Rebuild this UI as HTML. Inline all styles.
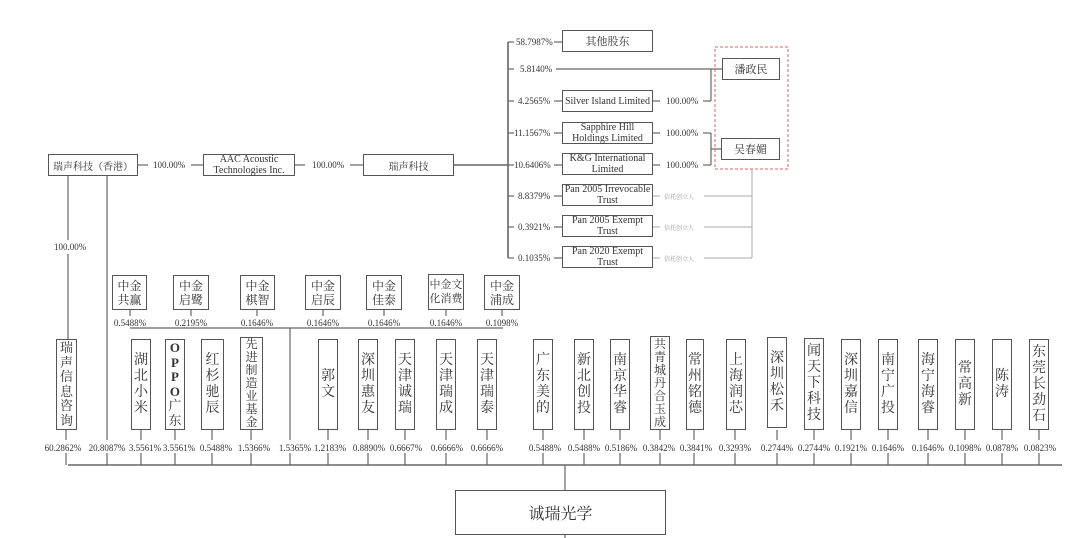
<!DOCTYPE html>
<html><head><meta charset="utf-8"><style>
body{margin:0;width:1080px;height:538px;background:#fff;position:relative;overflow:hidden;font-family:"Liberation Serif","Noto Serif CJK SC",serif;color:#333}
.b{position:absolute;border:1.3px solid #555;box-sizing:border-box;display:flex;align-items:center;justify-content:center;text-align:center;background:#fff}
.v{font-size:14px;line-height:16px}
.v7{font-size:12px;line-height:13px}
.h{font-size:10px;line-height:11px}
.p{position:absolute;font-size:9px;white-space:nowrap;transform:translateX(-50%)}
.r{position:absolute;font-size:9px;white-space:nowrap}
svg{position:absolute;left:0;top:0}
</style></head><body>
<svg width="1080" height="538" stroke="#666" stroke-width="1.2" fill="none">
<line x1="138" y1="165" x2="148" y2="165"/><line x1="191" y1="165" x2="203" y2="165"/>
<line x1="295" y1="165" x2="305" y2="165"/><line x1="350" y1="165" x2="363" y2="165"/>
<line x1="454" y1="165" x2="508" y2="165" stroke-width="1.6"/>
<line x1="508" y1="42" x2="508" y2="258" stroke-width="1.6"/>
<g>
<line x1="508" y1="42" x2="514" y2="42"/><line x1="508" y1="69" x2="514" y2="69"/><line x1="508" y1="101" x2="514" y2="101"/><line x1="508" y1="133" x2="514" y2="133"/><line x1="508" y1="165" x2="514" y2="165"/><line x1="508" y1="196" x2="514" y2="196"/><line x1="508" y1="227" x2="514" y2="227"/><line x1="508" y1="258" x2="514" y2="258"/>
<line x1="554" y1="42" x2="562" y2="42"/><line x1="554" y1="101" x2="562" y2="101"/><line x1="554" y1="133" x2="562" y2="133"/><line x1="554" y1="165" x2="562" y2="165"/><line x1="554" y1="196" x2="562" y2="196"/><line x1="554" y1="227" x2="562" y2="227"/><line x1="554" y1="258" x2="562" y2="258"/>
<line x1="556" y1="69" x2="722" y2="69"/>
<line x1="652" y1="101" x2="660" y2="101"/><line x1="652" y1="133" x2="660" y2="133"/><line x1="652" y1="165" x2="660" y2="165"/>
<line x1="703" y1="101" x2="711" y2="101"/><line x1="711" y1="69" x2="711" y2="101"/>
<line x1="703" y1="133" x2="711" y2="133"/><line x1="703" y1="165" x2="711" y2="165"/><line x1="711" y1="133" x2="711" y2="165"/><line x1="711" y1="149" x2="721" y2="149"/>
</g>
<g stroke="#aaa" stroke-width="1">
<line x1="652" y1="196" x2="660" y2="196"/><line x1="652" y1="227" x2="660" y2="227"/><line x1="652" y1="258" x2="660" y2="258"/>
<line x1="704" y1="196" x2="752" y2="196"/><line x1="704" y1="227" x2="752" y2="227"/><line x1="704" y1="258" x2="752" y2="258"/>
<line x1="752" y1="169" x2="752" y2="258"/>
</g>
<rect x="715" y="47" width="73" height="122" stroke="#d66" stroke-dasharray="3,2" stroke-width="1"/>
<line x1="68" y1="176" x2="68" y2="240"/><line x1="68" y1="254" x2="68" y2="339"/>
<line x1="107" y1="176" x2="107" y2="440"/>
<line x1="130" y1="328" x2="503" y2="328"/>
<line x1="290" y1="328" x2="290" y2="440"/>
<line x1="130" y1="310" x2="130" y2="316"/><line x1="191" y1="310" x2="191" y2="316"/><line x1="257" y1="310" x2="257" y2="316"/><line x1="323" y1="310" x2="323" y2="316"/><line x1="384" y1="310" x2="384" y2="316"/><line x1="446" y1="310" x2="446" y2="316"/><line x1="502" y1="310" x2="502" y2="316"/>
<line x1="68" y1="465" x2="1062" y2="465" stroke-width="1.5"/>
<path d="M66 430V440M66 453V465M107 453V465M141 430V440M141 453V465M175 430V440M175 453V465M212 430V440M212 453V465M251 430V440M251 453V465M290 453V465M328 430V440M328 453V465M368 430V440M368 453V465M405 430V440M405 453V465M446 430V440M446 453V465M487 430V440M487 453V465M543 430V440M543 453V465M584 430V440M584 453V465M620 430V440M620 453V465M660 430V440M660 453V465M694 430V440M694 453V465M735 430V440M735 453V465M777 430V440M777 453V465M814 430V440M814 453V465M851 430V440M851 453V465M888 430V440M888 453V465M928 430V440M928 453V465M965 430V440M965 453V465M1002 430V440M1002 453V465M1039 430V440M1039 453V465"/>
<line x1="565" y1="465" x2="565" y2="490"/><line x1="565" y1="535" x2="565" y2="538"/>
</svg>

<div class="b" style="left:48px;top:154px;width:90px;height:22px;font-size:10px">瑞声科技（香港）</div>
<div class="r" style="left:153px;top:160px">100.00%</div>
<div class="b h" style="left:203px;top:154px;width:92px;height:22px">AAC Acoustic<br>Technologies Inc.</div>
<div class="r" style="left:312px;top:160px">100.00%</div>
<div class="b" style="left:363px;top:154px;width:91px;height:22px;font-size:10px">瑞声科技</div>
<div class="r" style="left:54px;top:242px">100.00%</div>

<div class="r" style="left:516px;top:37px">58.7987%</div>
<div class="r" style="left:520px;top:64px">5.8140%</div>
<div class="r" style="left:518px;top:96px">4.2565%</div>
<div class="r" style="left:514px;top:128px">11.1567%</div>
<div class="r" style="left:514px;top:160px">10.6406%</div>
<div class="r" style="left:518px;top:191px">8.8379%</div>
<div class="r" style="left:518px;top:222px">0.3921%</div>
<div class="r" style="left:518px;top:253px">0.1035%</div>
<div class="b" style="left:562px;top:30px;width:91px;height:22px;font-size:11px">其他股东</div>
<div class="b h" style="left:562px;top:90px;width:91px;height:22px">Silver Island Limited</div>
<div class="b h" style="left:562px;top:122px;width:91px;height:22px">Sapphire Hill<br>Holdings Limited</div>
<div class="b h" style="left:562px;top:153px;width:91px;height:22px">K&amp;G International<br>Limited</div>
<div class="b h" style="left:562px;top:184px;width:91px;height:22px">Pan 2005 Irrevocable<br>Trust</div>
<div class="b h" style="left:562px;top:215px;width:91px;height:22px">Pan 2005 Exempt<br>Trust</div>
<div class="b h" style="left:562px;top:246px;width:91px;height:22px">Pan 2020 Exempt<br>Trust</div>
<div class="r" style="left:666px;top:96px">100.00%</div>
<div class="r" style="left:666px;top:128px">100.00%</div>
<div class="r" style="left:666px;top:160px">100.00%</div>
<div class="r" style="left:664px;top:192px;font-size:6px;color:#999">信托创立人</div>
<div class="r" style="left:664px;top:223px;font-size:6px;color:#999">信托创立人</div>
<div class="r" style="left:664px;top:254px;font-size:6px;color:#999">信托创立人</div>
<div class="b" style="left:722px;top:58px;width:58px;height:22px;font-size:11px">潘政民</div>
<div class="b" style="left:721px;top:138px;width:59px;height:22px;font-size:11px">吴春媚</div>

<div class="b" style="left:112px;top:275px;width:35px;height:35px;font-size:12px;line-height:14px">中金<br>共赢</div>
<div class="b" style="left:173px;top:275px;width:36px;height:35px;font-size:12px;line-height:14px">中金<br>启鹭</div>
<div class="b" style="left:240px;top:275px;width:35px;height:35px;font-size:12px;line-height:14px">中金<br>棋智</div>
<div class="b" style="left:305px;top:275px;width:36px;height:35px;font-size:12px;line-height:14px">中金<br>启辰</div>
<div class="b" style="left:366px;top:275px;width:36px;height:35px;font-size:12px;line-height:14px">中金<br>佳泰</div>
<div class="b" style="left:428px;top:274px;width:36px;height:36px;font-size:11px;line-height:14px">中金文<br>化消费</div>
<div class="b" style="left:484px;top:275px;width:36px;height:35px;font-size:12px;line-height:14px">中金<br>浦成</div>
<div class="p" style="left:130px;top:318px">0.5488%</div>
<div class="p" style="left:191px;top:318px">0.2195%</div>
<div class="p" style="left:257px;top:318px">0.1646%</div>
<div class="p" style="left:323px;top:318px">0.1646%</div>
<div class="p" style="left:384px;top:318px">0.1646%</div>
<div class="p" style="left:446px;top:318px">0.1646%</div>
<div class="p" style="left:502px;top:318px">0.1098%</div>

<div class="b v" style="left:56px;top:339px;width:21px;height:91px;font-size:13px;line-height:14.5px"><div>瑞<br>声<br>信<br>息<br>咨<br>询</div></div>
<div class="b v" style="left:131px;top:339px;width:20px;height:91px"><div>湖<br>北<br>小<br>米</div></div>
<div class="b v" style="left:165px;top:339px;width:20px;height:91px;font-size:13px;line-height:14.5px"><div><b>O<br>P<br>P<br>O</b><br>广<br>东</div></div>
<div class="b v" style="left:201px;top:339px;width:23px;height:91px"><div>红<br>杉<br>驰<br>辰</div></div>
<div class="b v7" style="left:240px;top:337px;width:23px;height:93px;align-items:flex-start"><div>先<br>进<br>制<br>造<br>业<br>基<br>金</div></div>
<div class="b v" style="left:318px;top:339px;width:20px;height:91px"><div>郭<br>文</div></div>
<div class="b v" style="left:358px;top:339px;width:20px;height:91px"><div>深<br>圳<br>惠<br>友</div></div>
<div class="b v" style="left:395px;top:339px;width:20px;height:91px"><div>天<br>津<br>诚<br>瑞</div></div>
<div class="b v" style="left:436px;top:339px;width:20px;height:91px"><div>天<br>津<br>瑞<br>成</div></div>
<div class="b v" style="left:477px;top:339px;width:20px;height:91px"><div>天<br>津<br>瑞<br>泰</div></div>
<div class="b v" style="left:533px;top:339px;width:20px;height:91px"><div>广<br>东<br>美<br>的</div></div>
<div class="b v" style="left:574px;top:339px;width:20px;height:91px"><div>新<br>北<br>创<br>投</div></div>
<div class="b v" style="left:610px;top:339px;width:20px;height:91px"><div>南<br>京<br>华<br>睿</div></div>
<div class="b v7" style="left:650px;top:336px;width:20px;height:94px"><div>共<br>青<br>城<br>丹<br>合<br>玉<br>成</div></div>
<div class="b v" style="left:686px;top:339px;width:18px;height:91px"><div>常<br>州<br>铭<br>德</div></div>
<div class="b v" style="left:726px;top:339px;width:20px;height:91px"><div>上<br>海<br>润<br>芯</div></div>
<div class="b v" style="left:767px;top:337px;width:20px;height:91px"><div>深<br>圳<br>松<br>禾</div></div>
<div class="b v" style="left:804px;top:338px;width:20px;height:92px"><div>闻<br>天<br>下<br>科<br>技</div></div>
<div class="b v" style="left:841px;top:339px;width:20px;height:91px"><div>深<br>圳<br>嘉<br>信</div></div>
<div class="b v" style="left:878px;top:339px;width:20px;height:91px"><div>南<br>宁<br>广<br>投</div></div>
<div class="b v" style="left:918px;top:339px;width:20px;height:91px"><div>海<br>宁<br>海<br>睿</div></div>
<div class="b v" style="left:955px;top:339px;width:20px;height:91px"><div>常<br>高<br>新</div></div>
<div class="b v" style="left:992px;top:339px;width:20px;height:91px"><div>陈<br>涛</div></div>
<div class="b v" style="left:1029px;top:339px;width:20px;height:91px"><div>东<br>莞<br>长<br>劲<br>石</div></div>

<div class="p" style="left:63px;top:443px">60.2862%</div>
<div class="p" style="left:107px;top:443px">20.8087%</div>
<div class="p" style="left:145px;top:443px">3.5561%</div>
<div class="p" style="left:179px;top:443px">3.5561%</div>
<div class="p" style="left:216px;top:443px">0.5488%</div>
<div class="p" style="left:254px;top:443px">1.5366%</div>
<div class="p" style="left:295px;top:443px">1.5365%</div>
<div class="p" style="left:330px;top:443px">1.2183%</div>
<div class="p" style="left:369px;top:443px">0.8890%</div>
<div class="p" style="left:406px;top:443px">0.6667%</div>
<div class="p" style="left:447px;top:443px">0.6666%</div>
<div class="p" style="left:487px;top:443px">0.6666%</div>
<div class="p" style="left:545px;top:443px">0.5488%</div>
<div class="p" style="left:584px;top:443px">0.5488%</div>
<div class="p" style="left:621px;top:443px">0.5186%</div>
<div class="p" style="left:659px;top:443px">0.3842%</div>
<div class="p" style="left:696px;top:443px">0.3841%</div>
<div class="p" style="left:735px;top:443px">0.3293%</div>
<div class="p" style="left:777px;top:443px">0.2744%</div>
<div class="p" style="left:814px;top:443px">0.2744%</div>
<div class="p" style="left:851px;top:443px">0.1921%</div>
<div class="p" style="left:888px;top:443px">0.1646%</div>
<div class="p" style="left:928px;top:443px">0.1646%</div>
<div class="p" style="left:965px;top:443px">0.1098%</div>
<div class="p" style="left:1002px;top:443px">0.0878%</div>
<div class="p" style="left:1040px;top:443px">0.0823%</div>

<div class="b" style="left:455px;top:490px;width:211px;height:45px;font-size:16px">诚瑞光学</div>
</body></html>
